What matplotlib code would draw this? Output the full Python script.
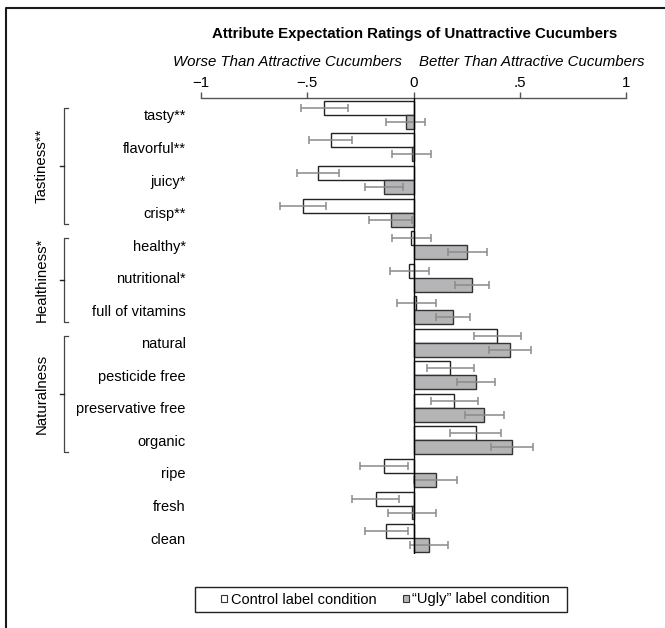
import matplotlib
matplotlib.use("Agg")
import matplotlib.pyplot as plt
from matplotlib.patches import Patch, Rectangle
from matplotlib.lines import Line2D
import matplotlib.transforms as mtransforms
import numpy as np

plt.rcParams['font.family'] = ['Liberation Sans', 'DejaVu Sans']

categories = ["tasty**", "flavorful**", "juicy*", "crisp**",
              "healthy*", "nutritional*", "full of vitamins",
              "natural", "pesticide free", "preservative free", "organic",
              "ripe", "fresh", "clean"]
control = [-0.42, -0.39, -0.45, -0.52, -0.01, -0.02, 0.012,
           0.394, 0.174, 0.192, 0.294, -0.138, -0.178, -0.128]
control_err = [0.11, 0.10, 0.10, 0.11, 0.092, 0.092, 0.092,
               0.11, 0.112, 0.11, 0.12, 0.112, 0.111, 0.102]
ugly = [-0.036, -0.008, -0.138, -0.108, 0.254, 0.274, 0.184,
        0.454, 0.294, 0.334, 0.464, 0.104, -0.006, 0.074]
ugly_err = [0.092, 0.092, 0.09, 0.10, 0.09, 0.08, 0.08,
            0.10, 0.09, 0.09, 0.10, 0.10, 0.112, 0.09]
groups = [("Tastiness**", 0, 3), ("Healthiness*", 4, 6), ("Naturalness", 7, 10)]
xticks = [-1, -0.5, 0, 0.5, 1]
xticklabels = ["\u22121", "\u2212.5", "0", ".5", "1"]

FS = 10.8
W, H = 665, 628
fig = plt.figure(figsize=(W / 100, H / 100), dpi=100)
ax = fig.add_axes([201 / W, 1 - 554 / H, 425 / W, 456 / H])

y = np.arange(len(categories))
bh = 0.43
ax.barh(y - bh / 2, control, height=bh, color="white", edgecolor="#222222", linewidth=1.0, zorder=2)
ax.barh(y + bh / 2, ugly, height=bh, color="#b5b5b8", edgecolor="#333333", linewidth=1.0, zorder=2)
ax.errorbar(control, y - bh / 2, xerr=control_err, fmt="none", ecolor="#8a8a8a",
            elinewidth=1.1, capsize=3.2, capthick=1.1, zorder=3)
ax.errorbar(ugly, y + bh / 2, xerr=ugly_err, fmt="none", ecolor="#8a8a8a",
            elinewidth=1.1, capsize=3.2, capthick=1.1, zorder=3)
ax.axvline(0, color="black", linewidth=1.0, zorder=4)

ax.set_xlim(-1, 1)
ax.set_ylim(13.49, -0.52)
ax.xaxis.tick_top()
ax.set_xticks(xticks)
ax.set_xticklabels(xticklabels, fontsize=FS)
ax.tick_params(axis="x", length=4, width=1.0, color="#555555", pad=2)
ax.set_yticks(y)
ax.set_yticklabels(categories, fontsize=10.5)
ax.tick_params(axis="y", length=0, pad=11)
for s in ["left", "right", "bottom"]:
    ax.spines[s].set_visible(False)
ax.spines["top"].set_color("#555555")
ax.spines["top"].set_linewidth(1.0)

# group brackets
tr = mtransforms.blended_transform_factory(fig.transFigure, ax.transData)
xb, xh, xm = 64 / W, 68 / W, 60 / W
for name, a, b in groups:
    top, bot = a - 0.22, b + 0.36
    mid = (top + bot) / 2
    ax.add_line(Line2D([xh, xb, xb, xh], [top, top, bot, bot], transform=tr,
                       color="#444444", linewidth=0.9, clip_on=False))
    ax.add_line(Line2D([xb, xm], [mid, mid], transform=tr,
                       color="#222222", linewidth=1.0, clip_on=False))
    ax.text(42 / W, mid, name, transform=tr, rotation=90, ha="center", va="center",
            fontsize=FS)

# titles
fig.text(414.5 / W, 1 - 34 / H, "Attribute Expectation Ratings of Unattractive Cucumbers",
         ha="center", va="center", fontsize=FS, fontweight="bold")
fig.text(402 / W, 1 - 62 / H, "Worse Than Attractive Cucumbers", ha="right", va="center",
         fontsize=FS, style="italic")
fig.text(419 / W, 1 - 62 / H, "Better Than Attractive Cucumbers", ha="left", va="center",
         fontsize=FS, style="italic")

# legend (frame drawn separately)
handles = [Patch(facecolor="white", edgecolor="#333333", linewidth=0.8),
           Patch(facecolor="#b5b5b8", edgecolor="#333333", linewidth=0.8)]
leg = fig.legend(handles, ["Control label condition", "\u201cUgly\u201d label condition"],
                 loc="center left", bbox_to_anchor=(221 / W, 1 - 599.5 / H), ncol=2,
                 fontsize=10.5, frameon=False, handlelength=0.42,
                 handleheight=0.42, handletextpad=0.25, columnspacing=1.8,
                 borderpad=0.0, borderaxespad=0.0)
fig.add_artist(Rectangle((195 / W, 1 - 612 / H), 372 / W, 25 / H, transform=fig.transFigure,
                         facecolor="none", edgecolor="#222222", linewidth=1.0))

# figure border (left and top)
fig.add_artist(Line2D([6 / W, 6 / W, 1.0], [0.0, 1 - 7.5 / H, 1 - 7.5 / H],
                      transform=fig.transFigure, color="#1a1a1a", linewidth=1.5))

fig.savefig("out.png", dpi=100)
